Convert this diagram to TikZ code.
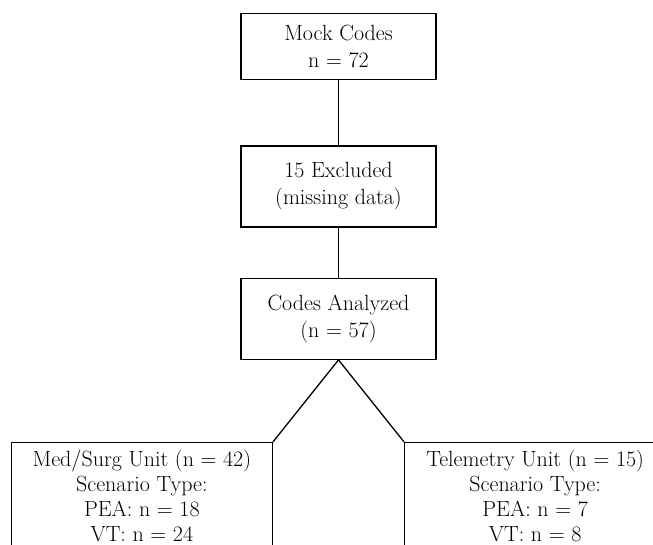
\documentclass[tikz,border=0pt]{standalone}
\usepackage{tikz}
\usetikzlibrary{positioning}

\begin{document}
\begin{tikzpicture}[
          box/.style={draw, line width=1.3pt, minimum width=195pt, align=center, font=\fontsize{22}{27}\selectfont},
          unitbox/.style={box, minimum width=261pt, inner ysep=7pt, font=\fontsize{22}{25}\selectfont},
          link/.style={line width=1.3pt}
        ]
          \fill[white] (0,0) rectangle (653pt,-545pt);
          \useasboundingbox (0,0) rectangle (653pt,-545pt);
          \clip (0,0) rectangle (653pt,-545pt);
          \node[box,minimum height=66pt,anchor=north] (codes) at (338.5pt,-13pt) {Mock Codes\\n = 72};
          \node[box,minimum height=81pt,below=65pt of codes] (excluded) {15 Excluded\\(missing data)};
          \node[box,minimum height=81pt,below=50pt of excluded] (analyzed) {Codes Analyzed\\(n = 57)};
          \node[unitbox,below left=82pt and 65.5pt of analyzed.south] (medsurg) {Med/Surg Unit (n = 42)\\Scenario Type:\\PEA: n = 18\\VT: n = 24};
          \node[unitbox,below right=82pt and 65.5pt of analyzed.south] (telemetry) {Telemetry Unit (n = 15)\\Scenario Type:\\PEA: n = 7\\VT: n = 8};
          \draw[link] (codes) -- (excluded);
          \draw[link] (excluded) -- (analyzed);
          \draw[link] (analyzed.south) -- (medsurg.north east);
          \draw[link] (analyzed.south) -- (telemetry.north west);
        \end{tikzpicture}
\end{document}
